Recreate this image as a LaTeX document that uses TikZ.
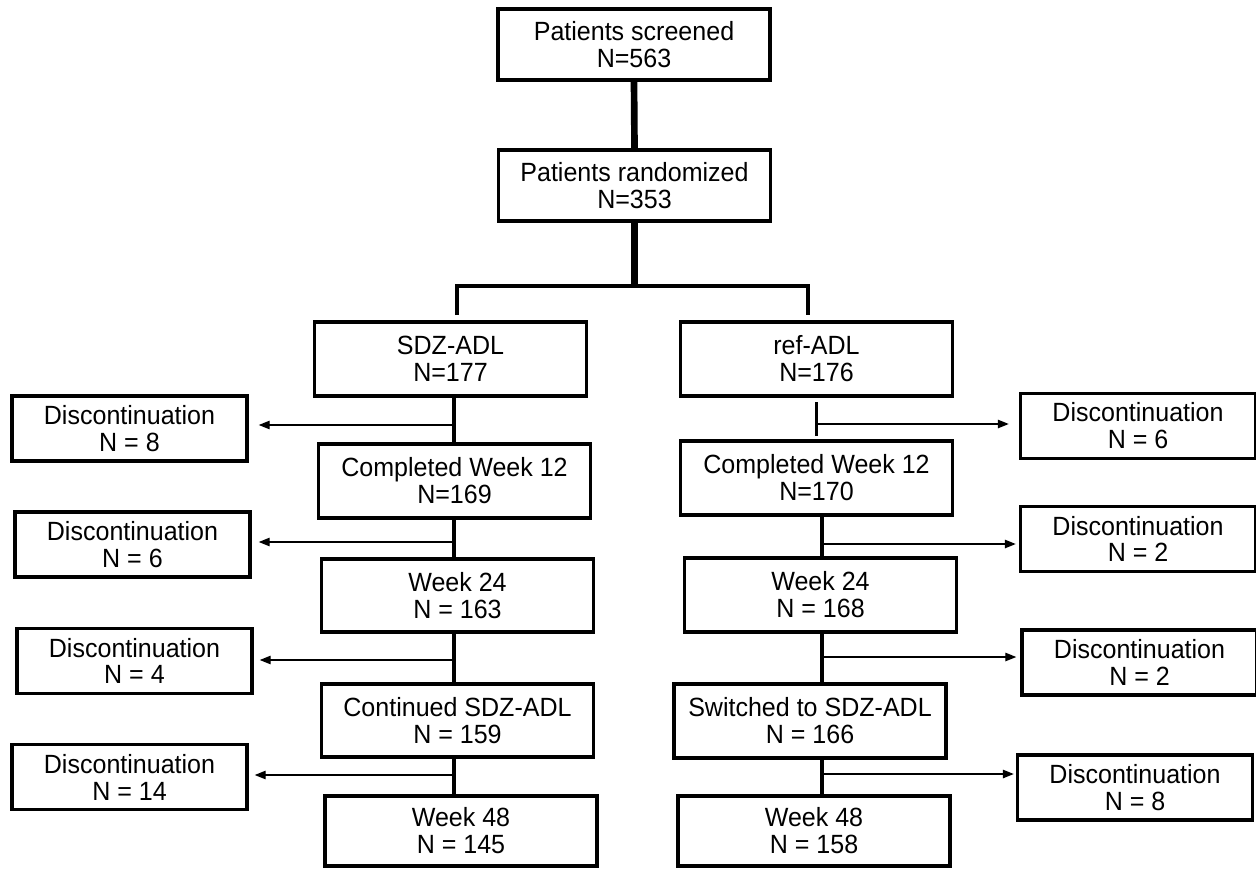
\documentclass[tikz,border=0pt]{standalone}
\usepackage{fontspec}
\setmainfont{Liberation Sans}[FakeStretch=0.95]
\usepackage{tikz}
\usetikzlibrary{arrows.meta}

\begin{document}
\begin{tikzpicture}[
    x=0.02cm, y=-0.02cm,
    stage/.style={rectangle, draw, line width=2pt, minimum width=5.44cm, minimum height=1.48cm,
      align=center, inner sep=0pt, font=\fontsize{15}{15.3}\selectfont},
    drop/.style={stage, minimum width=4.7cm, minimum height=1.3cm},
    stem/.style={line width=3.8pt},
    trunk/.style={line width=2.6pt},
    fork/.style={line width=1.9pt},
    tick/.style={line width=1.7pt},
    arrow/.style={-{Triangle[length=2.2mm, width=1.7mm]}, line width=0.75pt}
  ]
  \useasboundingbox (0,0) rectangle (1256,868);

  % screening and randomization
  \node[stage, minimum height=1.42cm] (screen) at (634,44.5) {Patients screened\\N=563};
  \node[stage, minimum height=1.42cm] (rand) at (634.5,185.5) {Patients randomized\\N=353};

  % SDZ-ADL arm
  \node[stage] (sdz) at (450.5,359) {SDZ-ADL\\N=177};
  \node[stage] (sdzwk12) at (454.5,481) {Completed Week 12\\N=169};
  \node[stage, minimum height=1.46cm] (sdzwk24) at (457.5,595.5) {Week 24\\N = 163};
  \node[stage, minimum height=1.46cm] (sdzcont) at (457.5,720.5) {Continued SDZ-ADL\\N = 159};
  \node[stage, minimum height=1.4cm] (sdzwk48) at (461,831) {Week 48\\N = 145};

  % ref-ADL arm
  \node[stage] (ref) at (816.5,359) {ref-ADL\\N=176};
  \node[stage] (refwk12) at (816.5,478) {Completed Week 12\\N=170};
  \node[stage] (refwk24) at (820.5,595) {Week 24\\N = 168};
  \node[stage] (refswitch) at (810,721) {Switched to SDZ-ADL\\N = 166};
  \node[stage, minimum height=1.4cm] (refwk48) at (814,831) {Week 48\\N = 158};

  % discontinuations
  \node[drop] (dl1) at (129.5,428.5) {Discontinuation\\N = 8};
  \node[drop] (dl2) at (132.5,544.5) {Discontinuation\\N = 6};
  \node[drop] (dl3) at (134.5,661) {Discontinuation\\N = 4};
  \node[drop] (dl4) at (129.5,777) {Discontinuation\\N = 14};
  \node[drop] (dr1) at (1138,426) {Discontinuation\\N = 6};
  \node[drop] (dr2) at (1138,539) {Discontinuation\\N = 2};
  \node[drop] (dr3) at (1139.5,662.5) {Discontinuation\\N = 2};
  \node[drop] (dr4) at (1135,787.5) {Discontinuation\\N = 8};

  % branch points
  \coordinate (split) at (634.5,286);
  \coordinate (lend) at (457,315);
  \coordinate (rend) at (808,315);
  \coordinate (l1) at (454,425);
  \coordinate (l2) at (454,542);
  \coordinate (l3) at (454,660);
  \coordinate (l4) at (454,775);
  \coordinate (r1) at (816,424);
  \coordinate (r2) at (822,544);
  \coordinate (r3) at (822,657);
  \coordinate (r4) at (822,774);
  \coordinate (t1a) at (816,402);
  \coordinate (t1b) at (816,436);

  \draw[stem] (screen.south) -- (rand.north);
  \draw[stem] (rand.south) -- (split);
  \draw[fork] (lend) -- (lend |- split) -- (rend |- split) -- (rend);

  \draw[trunk] (sdz.south -| l1) -- (sdzwk12.north -| l1);
  \draw[trunk] (sdzwk12.south -| l1) -- (sdzwk24.north -| l1);
  \draw[trunk] (sdzwk24.south -| l1) -- (sdzcont.north -| l1);
  \draw[trunk] (sdzcont.south -| l1) -- (sdzwk48.north -| l1);

  \draw[tick] (t1a) -- (t1b);
  \draw[trunk] (refwk12.south -| r2) -- (refwk24.north -| r2);
  \draw[trunk] (refwk24.south -| r2) -- (refswitch.north -| r2);
  \draw[trunk] (refswitch.south -| r2) -- (refwk48.north -| r2);

  \draw[arrow, shorten >=0.2cm] (l1) -- (dl1.east |- l1);
  \draw[arrow, shorten >=0.14cm] (l2) -- (dl2.east |- l2);
  \draw[arrow, shorten >=0.12cm] (l3) -- (dl3.east |- l3);
  \draw[arrow, shorten >=0.12cm] (l4) -- (dl4.east |- l4);
  \draw[arrow, shorten >=0.2cm] (r1) -- (dr1.west |- r1);
  \draw[arrow, shorten >=0.06cm] (r2) -- (dr2.west |- r2);
  \draw[arrow, shorten >=0.08cm] (r3) -- (dr3.west |- r3);
  \draw[arrow, shorten >=0.04cm] (r4) -- (dr4.west |- r4);
\end{tikzpicture}
\end{document}
